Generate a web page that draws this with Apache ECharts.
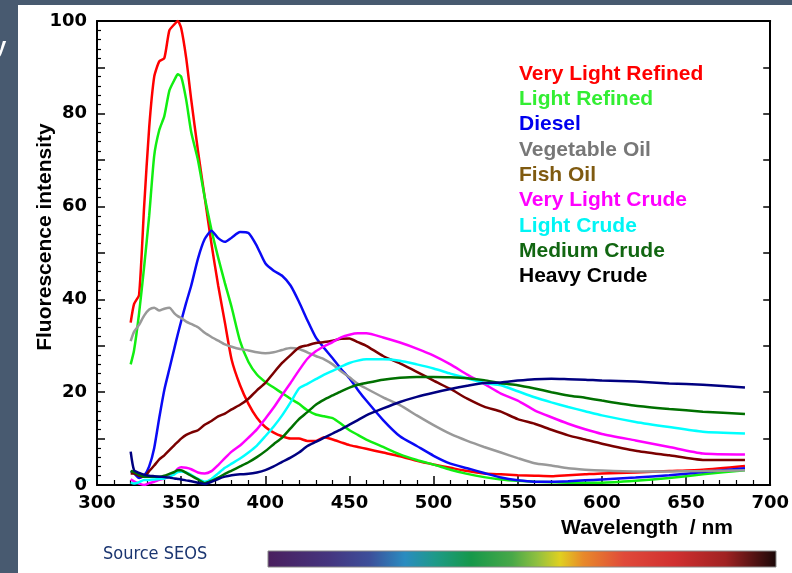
<!DOCTYPE html>
<html>
<head>
<meta charset="utf-8">
<script src="https://cdn.jsdelivr.net/npm/echarts@6/dist/echarts.min.js"></script>
<style>
html,body{margin:0;padding:0;background:#485a70;}
#chart{width:792px;height:573px;}
</style>
</head>
<body>
<div id="chart"></div>
<script>
// Wavelength sample points (nm)
const wavelengths = [320,322,325,328,331,334,337,340,343,346,348,350,353,356,360,364,368,372,376,380,385,390,395,400,405,410,415,420,425,430,435,440,445,450,455,460,470,480,490,500,510,520,530,540,550,560,570,580,590,600,620,640,660,685];

const seriesNames = ["Very Light Refined","Light Refined","Diesel","Vegetable Oil","Fish Oil","Very Light Crude","Light Crude","Medium Crude","Heavy Crude"];

const veryLightRefined = [35,39,41,60,77,88,91.3,92,98,99.3,100,98.5,92,83,72,62,52,43,35,27,21.5,17.5,14.5,12.5,11.3,10.5,10,10,9.5,9.5,10.3,9.8,9.2,8.6,8.2,7.8,7,6.2,5.2,4.4,3.7,3,2.5,2.3,2.1,2,1.9,2.1,2.3,2.5,2.7,3,3.3,4.1];
const lightRefined = [26,29,37,47,58,71,76.5,79.5,85,87.3,88.5,88,83,76,70,62,55,49,43.5,38.3,31,26.5,23.8,22.2,21,19.8,18.6,17.5,16.1,15.2,14.8,14.4,13.2,11.8,10.8,9.8,8.2,6.6,5.4,4.4,3.3,2.4,1.7,1.2,0.9,0.7,0.6,0.5,0.5,0.5,0.9,1.5,2.3,3.2];
const diesel = [3,2.5,1.5,2,4,8,14.5,20.5,25,29.5,32.5,35.3,39.3,43,48.8,53,54.8,53.2,52.4,53.3,54.5,54.3,51.5,47.8,46.2,45.1,43,39.5,35.5,31.8,29.5,27.3,25,23,20.5,18.2,14,10.5,8.4,6.3,4.6,3.6,2.6,1.6,1,0.7,0.7,0.8,1,1.2,1.6,2.1,2.8,3.6];
const vegetableOil = [31,33,34.5,36.5,37.8,38.2,37.6,38,38.2,37,36.4,36,35.2,34.7,34,32.8,31.9,31.1,30.3,29.8,29.3,29,28.6,28.4,28.6,29.1,29.5,29.3,28.6,27.8,27.1,26,24.5,23.2,21.8,20.8,18.9,17.2,15,12.9,11,9.5,8.2,7,5.8,4.7,4.2,3.6,3.3,3.1,2.9,2.9,3,3.2];
const fishOil = [2.5,2.5,2,1.8,3,4.2,5.5,6.4,7.5,8.6,9.3,10,10.8,11.3,11.8,13,13.8,14.8,15.4,16.3,17.3,18.6,20.4,22,24.2,26.3,28,29.6,30.1,30.6,30.8,31.1,31.5,31.6,30.8,30,27.8,26.2,24.4,22.5,20.7,18.6,16.9,15.8,14.2,13.2,11.9,10.7,9.8,8.9,7.4,6.4,5.4,5.4];
const veryLightCrude = [1.2,0.8,0.3,0,0.4,0.7,1.1,1.4,2,2.7,3.5,3.8,3.7,3.4,2.7,2.5,3,4.3,5.8,7.2,8.5,10.2,12,14.3,16.7,19.4,22,24.7,27.2,28.8,29.9,30.8,31.8,32.4,32.7,32.7,31.8,30.7,29.4,27.9,26,23.8,21.8,19.7,18.2,16.1,14.6,13.2,12,11,9.6,8.2,6.8,6.6];
const lightCrude = [0.5,0.3,0.6,1.1,1.1,1.2,1.3,1.4,1.8,2.3,2.8,2.9,2.7,2.2,1.3,0.7,1.3,2.5,3.7,4.6,5.7,7,8.5,10.5,12.6,15,17.8,20.8,21.8,22.8,23.8,24.6,25.5,26.3,26.8,27.1,27.1,26.8,26,25.1,24,23,22,21.5,20.2,18.9,17.8,16.8,15.9,15,13.6,12.5,11.5,11.1];
const mediumCrude = [3,2.8,2.2,1.8,1.8,1.8,1.8,2,2.4,2.8,3.2,3.2,2.6,2,1.2,0.4,0.9,1.6,2.4,3.1,4,4.9,6,7.3,8.8,10.2,12.2,14.2,15.7,17.3,18.4,19.3,20.2,21,21.6,22,22.7,23.1,23.3,23.3,23.2,23,22.6,21.9,21.5,20.8,20,19.3,18.8,18.2,17.1,16.4,15.8,15.3];
const heavyCrude = [7.2,3.2,2.6,2.2,2,1.9,1.8,1.7,1.6,1.4,1.3,1.2,1,0.8,0.5,0.2,0.7,1.3,1.8,2.1,2.3,2.4,2.7,3.2,4,5,5.9,7,8.4,9.3,10.2,11.1,12,13,14,15,16.5,17.9,19,19.9,20.7,21.4,22,22.1,22.5,22.8,22.9,22.8,22.7,22.5,22.3,21.9,21.6,21];

const seriesValues = [veryLightRefined, lightRefined, diesel, vegetableOil, fishOil, veryLightCrude, lightCrude, mediumCrude, heavyCrude];
const lineColors = ["#ff0000","#11ee11","#0a0af5","#999999","#7a0000","#ff00ff","#00ffff","#007000","#000080"];
const legendColors = ["#ff0000","#33ee33","#0000ee","#777777","#7f5a10","#ff00ff","#00f5f5","#116611","#000000"];

const chart = echarts.init(document.getElementById('chart'));

const series = seriesNames.map((name, k) => ({
  name: name,
  type: 'line',
  showSymbol: false,
  symbol: 'none',
  smooth: 0.2,
  lineStyle: {color: lineColors[k], width: 2.5},
  itemStyle: {color: lineColors[k]},
  data: wavelengths.map((w, i) => [w, seriesValues[k][i]])
}));

const tickFont = {fontFamily: 'DejaVu Sans', fontWeight: 'bold', fontSize: 18, color: '#000'};

chart.setOption({
  backgroundColor: '#485a70',
  animation: false,
  grid: {left: 97, right: 21, top: 21, bottom: 88},
  graphic: [
    {type: 'rect', z: -10, shape: {x: 18, y: 5, width: 774, height: 568}, style: {fill: '#ffffff'}},
    {type: 'text', left: -6, top: 36, style: {text: 'y', fill: '#ffffff', font: 'bold 22px "Liberation Sans"'}},
    {type: 'text', x: 45, y: 237, rotation: Math.PI / 2, style: {text: 'Fluorescence intensity', fill: '#000', font: 'bold 21px "Liberation Sans"', align: 'center', verticalAlign: 'middle'}},
    {type: 'text', x: 733, y: 528, style: {text: 'Wavelength  / nm', fill: '#000', font: 'bold 21px "Liberation Sans"', align: 'right', verticalAlign: 'middle'}},
    {type: 'text', x: 103, y: 554, style: {text: 'Source SEOS', fill: '#1a3570', font: '18px "Liberation Sans Narrow", "DejaVu Sans Condensed", sans-serif', align: 'left', verticalAlign: 'middle'}},
    {type: 'rect', shape: {x: 268, y: 551, width: 508, height: 16},
      style: {stroke: '#888', lineWidth: 1, fill: new echarts.graphic.LinearGradient(0, 0, 1, 0, [
        {offset: 0, color: '#4a1f5e'},
        {offset: 0.12, color: '#45357f'},
        {offset: 0.2, color: '#3d4f9a'},
        {offset: 0.27, color: '#2a8cc0'},
        {offset: 0.33, color: '#1e9a88'},
        {offset: 0.4, color: '#16984a'},
        {offset: 0.48, color: '#48a848'},
        {offset: 0.53, color: '#90c040'},
        {offset: 0.575, color: '#e0d020'},
        {offset: 0.62, color: '#e88a2a'},
        {offset: 0.7, color: '#e04a3a'},
        {offset: 0.8, color: '#d03030'},
        {offset: 0.9, color: '#a02222'},
        {offset: 1, color: '#1a0808'}
      ])}}
  ],
  legend: {
    orient: 'vertical',
    left: 509,
    top: 58,
    itemWidth: 0,
    itemHeight: 0,
    itemGap: 3.3,
    selectedMode: false,
    icon: 'rect',
    textStyle: {fontFamily: 'Liberation Sans', fontWeight: 'bold', fontSize: 21, lineHeight: 22},
    data: seriesNames.map((n, k) => ({name: n, textStyle: {color: legendColors[k]}}))
  },
  xAxis: [
    {
      type: 'value', min: 300, max: 700, interval: 50, position: 'bottom',
      axisLine: {show: true, lineStyle: {color: '#000', width: 2}},
      axisTick: {show: true, inside: true, length: 9, lineStyle: {color: '#000', width: 1.5}},
      minorTick: {show: true, splitNumber: 5, length: 5, lineStyle: {color: '#000', width: 1.2}},
      splitLine: {show: false},
      axisLabel: Object.assign({margin: 9}, tickFont)
    },
    {
      type: 'value', min: 300, max: 700, position: 'top',
      axisLine: {show: true, onZero: false, lineStyle: {color: '#000', width: 2}},
      axisTick: {show: false}, axisLabel: {show: false}, splitLine: {show: false}
    }
  ],
  yAxis: [
    {
      type: 'value', min: 0, max: 100, interval: 10, position: 'left',
      axisLine: {show: true, lineStyle: {color: '#000', width: 2}},
      axisTick: {show: true, inside: true, length: 8, lineStyle: {color: '#000', width: 1.5}},
      minorTick: {show: true, splitNumber: 5, length: 4, lineStyle: {color: '#000', width: 1.2}},
      splitLine: {show: false},
      axisLabel: Object.assign({margin: 10, formatter: v => (v % 20 === 0 ? String(v) : '')}, tickFont)
    },
    {
      type: 'value', min: 0, max: 100, interval: 10, position: 'right',
      axisLine: {show: true, onZero: false, lineStyle: {color: '#000', width: 2}},
      axisTick: {show: true, inside: true, length: 7, lineStyle: {color: '#000', width: 1.5}},
      axisLabel: {show: false}, splitLine: {show: false}
    }
  ],
  series: series
});
</script>
</body>
</html>
